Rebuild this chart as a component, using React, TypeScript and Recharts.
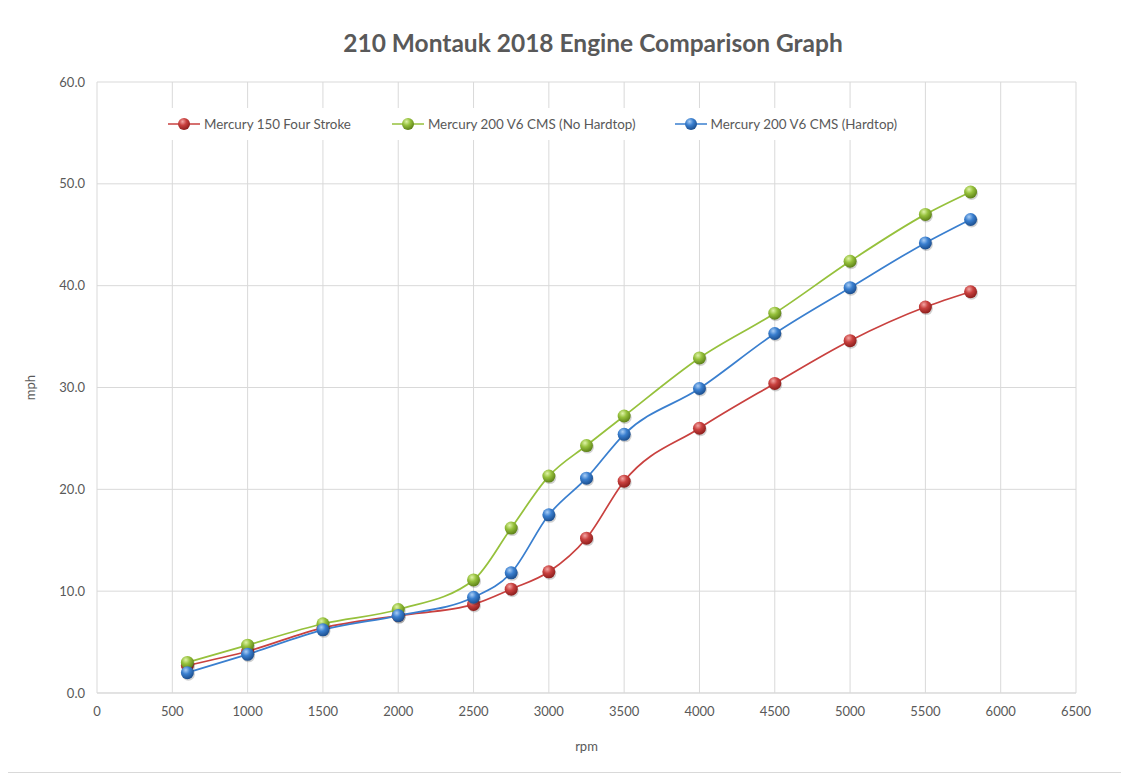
import React from 'react'
import { LineChart, Line, XAxis, YAxis, CartesianGrid } from 'recharts'

const rpm = [600, 1000, 1500, 2000, 2500, 2750, 3000, 3250, 3500, 4000, 4500, 5000, 5500, 5800]
const merc150 = [2.7, 4.1, 6.4, 7.6, 8.7, 10.2, 11.9, 15.2, 20.8, 26.0, 30.4, 34.6, 37.9, 39.4]
const merc200NoTop = [3.0, 4.7, 6.8, 8.2, 11.1, 16.2, 21.3, 24.3, 27.2, 32.9, 37.3, 42.4, 47.0, 49.2]
const merc200Top = [2.0, 3.8, 6.2, 7.6, 9.4, 11.8, 17.5, 21.1, 25.4, 29.9, 35.3, 39.8, 44.2, 46.5]
const xTicks = [0, 500, 1000, 1500, 2000, 2500, 3000, 3500, 4000, 4500, 5000, 5500, 6000, 6500]
const yTicks = [0, 10, 20, 30, 40, 50, 60]

const series = [
  { key: 'merc150', name: 'Mercury 150 Four Stroke', color: '#c9413f', light: '#f3a5a3', dark: '#8e1f1d' },
  { key: 'merc200NoTop', name: 'Mercury 200 V6 CMS (No Hardtop)', color: '#96c13c', light: '#dff3a8', dark: '#5e8219' },
  { key: 'merc200Top', name: 'Mercury 200 V6 CMS (Hardtop)', color: '#3a7fcf', light: '#a9cdf5', dark: '#1c4f8f' },
]

const data = rpm.map((r, i) => ({
  rpm: r,
  merc150: merc150[i],
  merc200NoTop: merc200NoTop[i],
  merc200Top: merc200Top[i],
}))

const FONT = 'Lato, "Open Sans", sans-serif'
const GREY = '#595959'

const makeDot = (key: string) => (props: any) => {
  const { cx, cy, index } = props
  if (cx == null || cy == null) return <g key={`${key}-${index}`} />
  return (
    <g key={`${key}-${index}`}>
      <circle cx={cx + 1} cy={cy + 1.5} r={6.5} fill="rgba(0,0,0,0.18)" />
      <circle cx={cx} cy={cy} r={6.5} fill={`url(#ball-${key})`} />
    </g>
  )
}

function LegendBall({ s }: { s: typeof series[number] }) {
  return (
    <svg width={34} height={16} style={{ display: 'block' }}>
      <defs>
        <radialGradient id={`lg-${s.key}`} cx="38%" cy="30%" r="70%">
          <stop offset="0%" stopColor={s.light} />
          <stop offset="45%" stopColor={s.color} />
          <stop offset="100%" stopColor={s.dark} />
        </radialGradient>
      </defs>
      <line x1={1} y1={8} x2={33} y2={8} stroke={s.color} strokeWidth={1.5} />
      <circle cx={17} cy={8} r={6} fill={`url(#lg-${s.key})`} />
    </svg>
  )
}

// gaps between legend entries, tuned to the original layout
const legendGaps = [40, 38, 0]

export default function App() {
  return (
    <div
      style={{
        position: 'relative',
        width: 1122,
        height: 764,
        margin: '-1px 0 0 -3px',
        border: '1px solid #d9d9d9',
        background: '#fff',
        fontFamily: FONT,
      }}
    >
      <div
        style={{
          position: 'absolute',
          top: 20,
          left: 52,
          right: 0,
          textAlign: 'center',
          fontSize: 24.5,
          fontWeight: 700,
          color: GREY,
        }}
      >
        210 Montauk 2018 Engine Comparison Graph
      </div>

      <LineChart
        width={1120}
        height={762}
        data={data}
        margin={{ top: 74, right: 50, left: 0, bottom: 17 }}
      >
        <defs>
          {series.map((s) => (
            <radialGradient key={s.key} id={`ball-${s.key}`} cx="38%" cy="30%" r="70%">
              <stop offset="0%" stopColor={s.light} />
              <stop offset="45%" stopColor={s.color} />
              <stop offset="100%" stopColor={s.dark} />
            </radialGradient>
          ))}
        </defs>
        <CartesianGrid stroke="#d9d9d9" strokeWidth={1} />
        <XAxis
          dataKey="rpm"
          type="number"
          domain={[0, 6500]}
          ticks={xTicks}
          height={60}
          tickSize={0}
          tickMargin={14}
          axisLine={{ stroke: '#d9d9d9' }}
          tick={{ fill: GREY, fontSize: 13, fontFamily: FONT }}
          label={{ value: 'rpm', position: 'insideBottom', offset: 2, fill: GREY, fontSize: 13, fontFamily: FONT }}
        />
        <YAxis
          type="number"
          domain={[0, 60]}
          ticks={yTicks}
          width={91}
          tickSize={0}
          tickMargin={12}
          axisLine={false}
          tickFormatter={(v: number) => v.toFixed(1)}
          tick={{ fill: GREY, fontSize: 13, fontFamily: FONT }}
          label={{
            value: 'mph',
            angle: -90,
            position: 'insideLeft',
            offset: 24,
            fill: GREY,
            fontSize: 13,
            fontFamily: FONT,
            style: { textAnchor: 'middle' },
          }}
        />
        {series.map((s) => (
          <Line
            key={s.key}
            type="monotone"
            dataKey={s.key}
            name={s.name}
            stroke={s.color}
            strokeWidth={1.75}
            dot={makeDot(s.key)}
            activeDot={false}
            isAnimationActive={false}
          />
        ))}
      </LineChart>

      <div
        style={{
          position: 'absolute',
          top: 100,
          left: 153,
          height: 32,
          padding: '0 8px',
          background: '#fff',
          display: 'flex',
          alignItems: 'center',
          fontSize: 13.4,
          color: GREY,
        }}
      >
        {series.map((s, i) => (
          <div key={s.key} style={{ display: 'flex', alignItems: 'center', marginRight: legendGaps[i] }}>
            <LegendBall s={s} />
            <span style={{ marginLeft: 3 }}>{s.name}</span>
          </div>
        ))}
      </div>
    </div>
  )
}
